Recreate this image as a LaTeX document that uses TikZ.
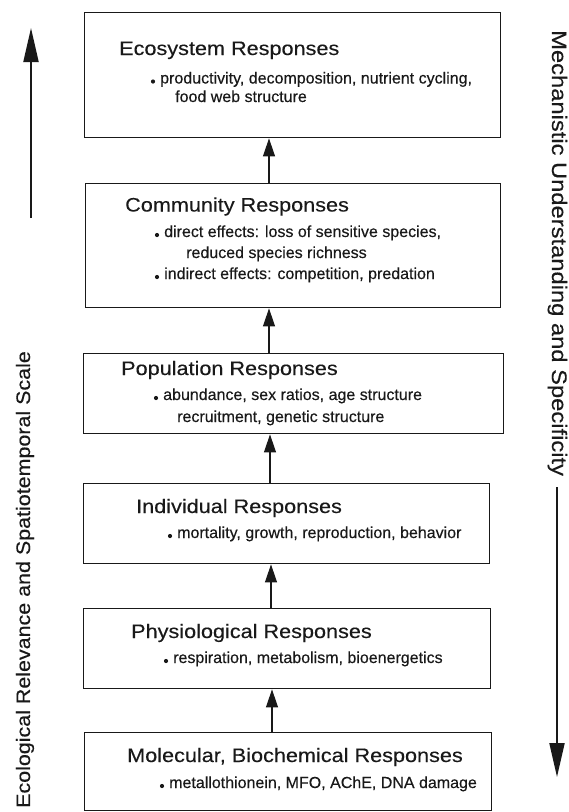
\documentclass[tikz,border=0pt]{standalone}
\usepackage{fontspec}
\setmainfont{Liberation Sans}
\newfontfamily\ttlfont[FakeStretch=1.11, FakeBold=0.3]{Liberation Sans}
\newfontfamily\bulfont[FakeBold=0.3]{Liberation Sans}
\newfontfamily\leftfont[FakeStretch=1.1, FakeBold=0.3]{Liberation Sans}
\newfontfamily\rightfont[FakeStretch=1.13, FakeBold=0.3]{Liberation Sans}
\usetikzlibrary{arrows.meta}
\tikzset{
  box/.style={draw=black!90, line width=1.4pt, rectangle, inner sep=0pt, anchor=north west},
  ttl/.style={anchor=base west, inner sep=0pt, font=\ttlfont\fontsize{19.5}{22}\selectfont, text=black!90},
  itm/.style={anchor=base west, inner sep=0pt, font=\bulfont\fontsize{16}{18}\selectfont, text=black!90},
  dot/.style={circle, fill=black!90, inner sep=0pt, minimum size=4.2pt},
  conn/.style={line width=1.1pt, draw=black!90, -{Triangle[length=18pt, width=12pt]}},
  side/.style={line width=2pt, draw=black!90, -{Triangle[length=34pt, width=15pt]}},
}
\begin{document}
\begin{tikzpicture}[x=1pt, y=-1pt]
\useasboundingbox (0,0) rectangle (569,812);
% boxes
\node[box, minimum width=416pt, minimum height=125pt] (b1) at (84,12) {};
\node[box, minimum width=415pt, minimum height=124pt] (b2) at (85,183) {};
\node[box, minimum width=420pt, minimum height=80pt] (b3) at (83,353) {};
\node[box, minimum width=406pt, minimum height=80pt] (b4) at (83,483) {};
\node[box, minimum width=407pt, minimum height=80pt] (b5) at (83,608) {};
\node[box, minimum width=407pt, minimum height=78pt] (b6) at (84,732) {};
% titles
\node[ttl] (t1) at (119,55) {Ecosystem Responses};
\node[ttl] (t2) at (125,211.5) {Community Responses};
\node[ttl] (t3) at (121,375) {Population Responses};
\node[ttl] (t4) at (136,513) {Individual Responses};
\node[ttl] (t5) at (131,638) {Physiological Responses};
\node[ttl] (t6) at (127,762) {Molecular, Biochemical Responses};
% items
\node[dot] (d1) at (153,81.5) {};
\node[itm] (i1) at (160,83.5) {productivity, decomposition, nutrient cycling,};
\node[itm] (i1b) at (175,102) {food web structure};
\node[dot] (d2) at (157,235) {};
\node[itm] (i2) at (164,237) {direct effects: loss of sensitive species,};
\node[itm] (i2b) at (186,258) {reduced species richness};
\node[dot] (d3) at (157,277) {};
\node[itm] (i3) at (164,279) {indirect effects: competition, predation};
\node[dot] (d4) at (156,398) {};
\node[itm] (i4) at (163,400) {abundance, sex ratios, age structure};
\node[itm] (i4b) at (177,422) {recruitment, genetic structure};
\node[dot] (d5) at (170,536) {};
\node[itm] (i5) at (177,538) {mortality, growth, reproduction, behavior};
\node[dot] (d6) at (166,661) {};
\node[itm] (i6) at (173,663) {respiration, metabolism, bioenergetics};
\node[dot] (d7) at (162,786) {};
\node[itm] (i7) at (169,788) {metallothionein, MFO, AChE, DNA damage};
% connectors between boxes
\coordinate (a1) at (269,0);
\coordinate (a2) at (269,0);
\coordinate (a3) at (270,0);
\coordinate (a4) at (271,0);
\coordinate (a5) at (272,0);
\draw[conn] (b2.north -| a1) -- (b1.south -| a1);
\draw[conn] (b3.north -| a2) -- (b2.south -| a2);
\draw[conn] (b4.north -| a3) -- (b3.south -| a3);
\draw[conn] (b5.north -| a4) -- (b4.south -| a4);
\draw[conn] (b6.north -| a5) -- (b5.south -| a5);
% side arrows and labels
\coordinate (ls) at (31,218);
\coordinate (le) at (31,28);
\draw[side] (ls) -- (le);
\node[rotate=90, anchor=base west, inner sep=0pt, font=\leftfont\fontsize{19.5}{22}\selectfont, text=black!90] (lt) at (30,808) {Ecological Relevance and Spatiotemporal Scale};
\coordinate (rs) at (557,487);
\coordinate (re) at (557,777);
\draw[side] (rs) -- (re);
\node[rotate=-90, anchor=base west, inner sep=0pt, font=\rightfont\fontsize{21}{24}\selectfont, text=black!90] (rt) at (552,30) {Mechanistic Understanding and Specificity};
\end{tikzpicture}
\end{document}
